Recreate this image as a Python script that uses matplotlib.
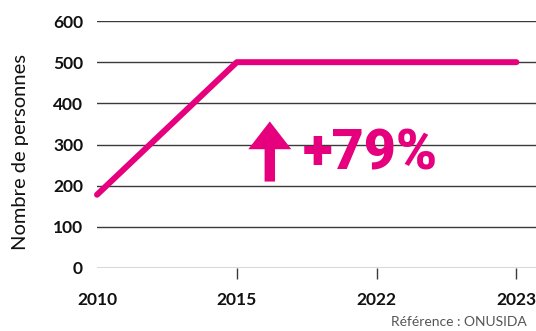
import matplotlib
matplotlib.use("Agg")
import matplotlib.pyplot as plt

# data
annees = ["2010", "2015", "2022", "2023"]
personnes = [178, 500, 500, 500]
yticks = [0, 100, 200, 300, 400, 500, 600]

rose = "#E6007E"
plt.rcParams["font.family"] = ["Lato", "DejaVu Sans"]

fig = plt.figure(figsize=(5.36, 3.31), dpi=100)
ax = fig.add_axes([97 / 536, 1 - 268 / 331, 1 - 97 / 536, (268 - 21) / 331])

x = list(range(len(annees)))
for y in yticks:
    ax.axhline(y, color="#3a3a3a", lw=1.0, zorder=1)
ax.plot(x, personnes, color=rose, lw=4.3, solid_capstyle="round", zorder=3, clip_on=False)

ax.set_xlim(0, 3.14)
ax.set_ylim(0, 600)
for s in ax.spines.values():
    s.set_visible(False)

ax.set_xticks(x)
ax.set_xticklabels(annees, fontsize=12.5, fontweight="bold", color="#111111")
ax.tick_params(axis="x", length=8, width=1.0, color="#3a3a3a", pad=9)
ax.xaxis.get_major_ticks()[0].tick1line.set_visible(False)

ax.set_yticks(yticks)
ax.set_yticklabels([str(v) for v in yticks], fontsize=12.5, fontweight="bold", color="#111111")
ax.tick_params(axis="y", length=0, pad=10)
ax.set_ylabel("Nombre de personnes", fontsize=14.5, color="#111111")
ax.yaxis.set_label_coords(-0.155, 0.47)

# growth annotation
ax.annotate("", xy=(1.236, 356), xytext=(1.236, 210),
            arrowprops=dict(arrowstyle="simple,head_length=2.0,head_width=3.1,tail_width=0.75",
                            mutation_scale=10, color=rose, shrinkA=0, shrinkB=0, lw=0))
ax.text(1.47, 278, "+79%", fontsize=40, fontweight="black", color=rose, va="center", ha="left",
        family=["Roboto", "DejaVu Sans"])

fig.text(527 / 536, 1 - 322 / 331, "Référence : ONUSIDA", fontsize=10, color="#555555",
         ha="right", va="center")

fig.savefig("out.png", dpi=100)
